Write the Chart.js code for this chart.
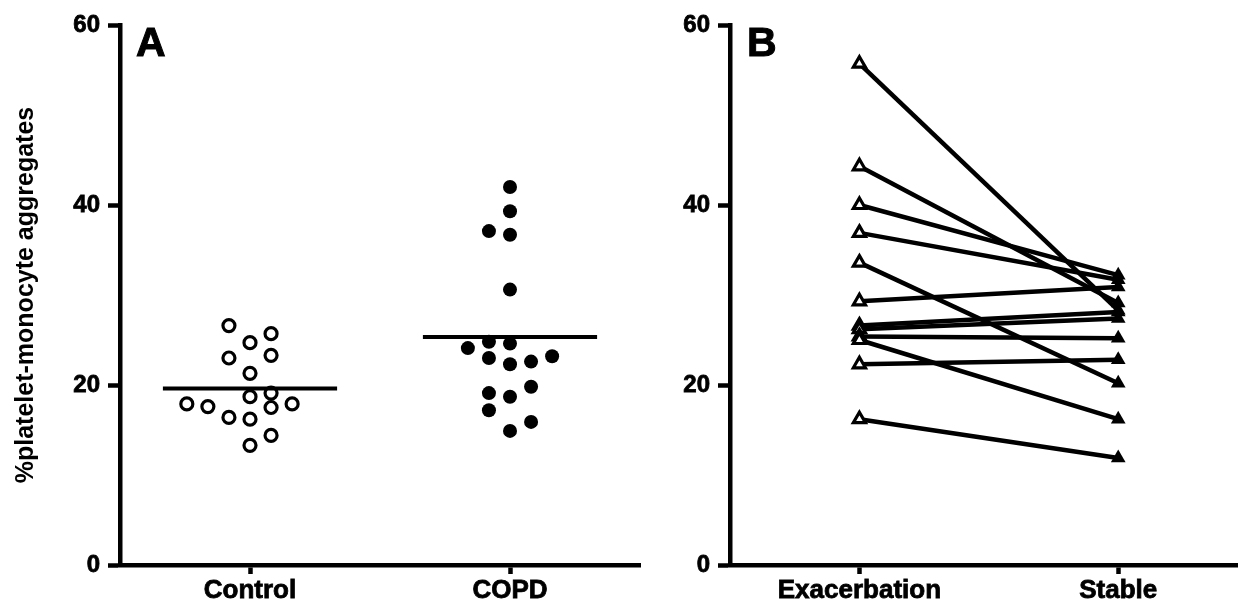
<!DOCTYPE html>
<html>
<head>
<meta charset="utf-8">
<script src="https://cdn.jsdelivr.net/npm/chart.js@4/dist/chart.umd.min.js"></script>
<style>
  html, body { margin: 0; padding: 0; background: #fff; }
  #wrap { position: relative; width: 1248px; height: 608px; overflow: hidden; }
  #ca { position: absolute; left: 0; top: 0; }
  #cb { position: absolute; left: 660px; top: 0; }
</style>
</head>
<body>
<div id="wrap">
  <canvas id="ca" width="660" height="608"></canvas>
  <canvas id="cb" width="588" height="608"></canvas>
</div>
<script>
// Panel A: groups and individual measurements
const groupsA = ['Control', 'COPD'];
const controlValues = [26.6, 24.7, 25.7, 23.0, 23.3, 21.3, 18.7, 19.1, 17.9, 17.6, 17.5, 17.9, 16.4, 16.2, 14.4, 13.3];
const controlSlots  = [-1, 0, 1, -1, 1, 0, 0, 1, -3, -2, 1, 2, -1, 0, 1, 0];
const copdValues = [42.0, 39.3, 37.1, 36.7, 30.6, 24.1, 24.8, 24.6, 23.0, 23.2, 22.3, 22.6, 19.8, 19.1, 18.7, 17.2, 14.9, 15.9];
const copdSlots  = [0, 0, -1, 0, 0, -2, -1, 0, -1, 2, 0, 1, 1, -1, 0, -1, 0, 1];

// Panel B: paired measurements per patient
const groupsB = ['Exacerbation', 'Stable'];
const exacerbationValues = [55.7, 44.3, 40.0, 36.9, 33.6, 29.3, 26.6, 26.2, 25.4, 25.0, 22.3, 16.2];
const stableValues       = [28.3, 29.1, 32.2, 31.7, 20.2, 30.9, 28.1, 27.4, 25.2, 16.2, 22.8, 11.9];

// Shared y axis
const yTicks = [0, 20, 40, 60];
const yTitle = '%platelet-monocyte aggregates';

const FONT = '"Liberation Sans", Arial, Helvetica, sans-serif';
const BLACK = '#000';
const AXIS_W = 4.5;
const SLOT = 0.081;        // horizontal spacing between swarm columns (x units)
const MEAN_HALF = 0.335;   // half-length of the mean bar (x units)

const mean = a => a.reduce((s, v) => s + v, 0) / a.length;

const panelLetter = {
  id: 'panelLetter',
  afterDraw(chart, args, opts) {
    const ctx = chart.ctx;
    ctx.save();
    ctx.font = 'bold 41px ' + FONT;
    ctx.fillStyle = BLACK;
    ctx.strokeStyle = BLACK;
    ctx.lineWidth = 1;
    ctx.textBaseline = 'alphabetic';
    const x = chart.chartArea.left + opts.dx;
    ctx.fillText(opts.text, x, opts.y);
    ctx.strokeText(opts.text, x, opts.y);
    ctx.restore();
  }
};

function yScale(width, withTitle) {
  return {
    type: 'linear', min: 0, max: 60,
    afterBuildTicks: s => { s.ticks = yTicks.map(v => ({ value: v })); },
    ticks: { font: { family: FONT, size: 24, weight: 'bold' }, color: BLACK, padding: 8,
             textStrokeColor: BLACK, textStrokeWidth: 0.8 },
    grid: { drawOnChartArea: false, drawTicks: true, tickLength: 12, tickWidth: AXIS_W, color: BLACK },
    border: { display: true, color: BLACK, width: AXIS_W },
    title: {
      display: withTitle, text: yTitle, color: BLACK,
      font: { family: FONT, size: 25, weight: 'bold' },
      padding: { top: 11, bottom: 0 }
    },
    afterFit: s => { s.width = width; }
  };
}

function xScale(labels, min, max) {
  return {
    type: 'linear', min: min, max: max,
    afterBuildTicks: s => { s.ticks = labels.map((_, i) => ({ value: i + 1 })); },
    ticks: {
      callback: v => labels[Math.round(v) - 1],
      font: { family: FONT, size: 26, weight: 'bold' }, color: BLACK,
      textStrokeColor: BLACK, textStrokeWidth: 0.8,
      padding: 1, autoSkip: false, maxRotation: 0
    },
    grid: { drawOnChartArea: false, drawTicks: true, tickLength: 9, tickWidth: AXIS_W, color: BLACK },
    border: { display: true, color: BLACK, width: AXIS_W },
    afterFit: s => { s.height = 43; s.paddingLeft = 0; s.paddingRight = 0; }
  };
}

const common = {
  responsive: false,
  animation: false,
  events: [],
  plugins: { legend: { display: false }, tooltip: { enabled: false } }
};

// ---- Panel A: scatter with mean bars ----
const controlPts = controlValues.map((v, i) => ({ x: 1 + controlSlots[i] * SLOT, y: v }));
const copdPts = copdValues.map((v, i) => ({ x: 2 + copdSlots[i] * SLOT, y: v }));
const meanLines = [controlValues, copdValues].map((vals, i) => {
  const m = mean(vals);
  return {
    type: 'line',
    data: [{ x: i + 1 - MEAN_HALF, y: m }, { x: i + 1 + MEAN_HALF, y: m }],
    borderColor: BLACK, borderWidth: 4, pointRadius: 0, order: 0
  };
});

new Chart(document.getElementById('ca'), {
  type: 'scatter',
  data: {
    datasets: [
      { data: controlPts, pointStyle: 'circle', pointRadius: 6, pointBorderWidth: 3.2,
        pointBackgroundColor: '#fff', pointBorderColor: BLACK, order: 2 },
      { data: copdPts, pointStyle: 'circle', pointRadius: 7, pointBorderWidth: 0,
        pointBackgroundColor: BLACK, pointBorderColor: BLACK, order: 2 },
      ...meanLines
    ]
  },
  options: {
    ...common,
    layout: { padding: { top: 25, right: 20, left: 0, bottom: 0 } },
    scales: { x: xScale(groupsA, 0.5, 2.5), y: yScale(120, true) },
    plugins: { ...common.plugins, panelLetter: { text: 'A', dx: 16, y: 56 } }
  },
  plugins: [panelLetter]
});

// ---- Panel B: paired lines ----
const pairLines = exacerbationValues.map((v, i) => ({
  type: 'line',
  data: [{ x: 1, y: v }, { x: 2, y: stableValues[i] }],
  borderColor: BLACK, borderWidth: 4.5, pointRadius: 0, order: 3
}));

new Chart(document.getElementById('cb'), {
  type: 'scatter',
  data: {
    datasets: [
      ...pairLines,
      { data: exacerbationValues.map(v => ({ x: 1, y: v })), pointStyle: 'triangle',
        pointRadius: 7, pointBorderWidth: 3.2, pointBackgroundColor: '#fff',
        pointBorderColor: BLACK, order: 1 },
      { data: stableValues.map(v => ({ x: 2, y: v })), pointStyle: 'triangle',
        pointRadius: 8.5, pointBorderWidth: 0, pointBackgroundColor: BLACK,
        pointBorderColor: BLACK, order: 1 }
    ]
  },
  options: {
    ...common,
    layout: { padding: { top: 25, right: 0, left: 0, bottom: 0 } },
    scales: { x: xScale(groupsB, 0.5, 2.462), y: yScale(70, false) },
    plugins: { ...common.plugins, panelLetter: { text: 'B', dx: 17, y: 56 } }
  },
  plugins: [panelLetter]
});
</script>
</body>
</html>
